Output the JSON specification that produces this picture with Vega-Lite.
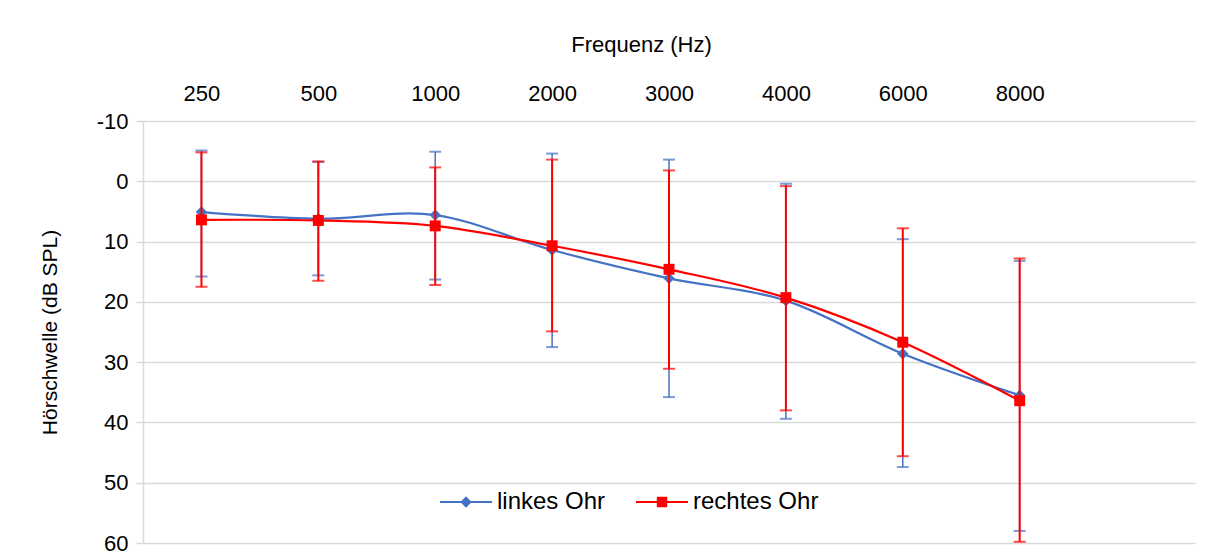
{
  "$schema": "https://vega.github.io/schema/vega-lite/v6.json",
  "width": 1052,
  "height": 422,
  "autosize": {"type": "none"},
  "padding": {"left": 143, "top": 121, "right": 20, "bottom": 9},
  "background": "white",
  "config": {
    "font": "Liberation Sans",
    "view": {"stroke": null}
  },
  "data": {
    "values": [
      {"ear": "linkes Ohr", "freq": "250", "value": 5.1, "lo": -5.1, "hi": 15.8},
      {"ear": "linkes Ohr", "freq": "500", "value": 6.2, "lo": -3.2, "hi": 15.6},
      {"ear": "linkes Ohr", "freq": "1000", "value": 5.6, "lo": -4.9, "hi": 16.3},
      {"ear": "linkes Ohr", "freq": "2000", "value": 11.4, "lo": -4.6, "hi": 27.5},
      {"ear": "linkes Ohr", "freq": "3000", "value": 16.1, "lo": -3.6, "hi": 35.8},
      {"ear": "linkes Ohr", "freq": "4000", "value": 19.8, "lo": 0.4, "hi": 39.4},
      {"ear": "linkes Ohr", "freq": "6000", "value": 28.6, "lo": 9.6, "hi": 47.4},
      {"ear": "linkes Ohr", "freq": "8000", "value": 35.5, "lo": 13.2, "hi": 58.0},
      {"ear": "rechtes Ohr", "freq": "250", "value": 6.4, "lo": -4.8, "hi": 17.5},
      {"ear": "rechtes Ohr", "freq": "500", "value": 6.5, "lo": -3.3, "hi": 16.5},
      {"ear": "rechtes Ohr", "freq": "1000", "value": 7.4, "lo": -2.3, "hi": 17.2},
      {"ear": "rechtes Ohr", "freq": "2000", "value": 10.7, "lo": -3.6, "hi": 24.9},
      {"ear": "rechtes Ohr", "freq": "3000", "value": 14.6, "lo": -1.8, "hi": 31.1},
      {"ear": "rechtes Ohr", "freq": "4000", "value": 19.3, "lo": 0.8, "hi": 38.0},
      {"ear": "rechtes Ohr", "freq": "6000", "value": 26.7, "lo": 7.8, "hi": 45.6},
      {"ear": "rechtes Ohr", "freq": "8000", "value": 36.4, "lo": 12.8, "hi": 59.8}
    ]
  },
  "encoding": {
    "x": {
      "field": "freq",
      "type": "ordinal",
      "sort": null,
      "scale": {"type": "point", "padding": 0.5, "domain": ["250", "500", "1000", "2000", "3000", "4000", "6000", "8000", ""]},
      "axis": {
        "orient": "top",
        "title": "Frequenz (Hz)",
        "titleFontSize": 22,
        "titleFontWeight": "normal",
        "titleColor": "#000000",
        "titlePadding": 26,
        "titleX": 498,
        "titleAlign": "center",
        "labelFontSize": 22,
        "labelColor": "#000000",
        "labelAngle": 0,
        "labelPadding": 16,
        "ticks": false,
        "tickSize": 0,
        "domain": false,
        "grid": false
      }
    },
    "y": {
      "field": "value",
      "type": "quantitative",
      "scale": {"domain": [-10, 60], "reverse": true, "nice": false, "zero": false},
      "axis": {
        "title": "Hörschwelle (dB SPL)",
        "titleFontSize": 21,
        "titleFontWeight": "normal",
        "titleColor": "#000000",
        "titlePadding": 36,
        "values": [-10, 0, 10, 20, 30, 40, 50, 60],
        "labelExpr": "'' + datum.value",
        "labelFontSize": 22,
        "labelColor": "#000000",
        "labelPadding": 8,
        "tickSize": 7,
        "tickColor": "#D9D9D9",
        "tickWidth": 1.5,
        "domainColor": "#D9D9D9",
        "domainWidth": 1.5,
        "gridColor": "#D9D9D9",
        "gridWidth": 1.5
      }
    }
  },
  "layer": [
    {
      "transform": [{"filter": "datum.ear === 'linkes Ohr'"}],
      "layer": [
        {"mark": {"type": "rule", "color": "#4472C4", "strokeWidth": 1.5}, "encoding": {"y": {"field": "lo", "type": "quantitative"}, "y2": {"field": "hi"}}},
        {"mark": {"type": "tick", "color": "#4472C4", "size": 12, "thickness": 2}, "encoding": {"y": {"field": "lo", "type": "quantitative"}}},
        {"mark": {"type": "tick", "color": "#4472C4", "size": 12, "thickness": 2}, "encoding": {"y": {"field": "hi", "type": "quantitative"}}},
        {"mark": {"type": "line", "color": "#4472C4", "interpolate": "cardinal", "tension": 0, "strokeWidth": 2.2}, "encoding": {}},
        {"mark": {"type": "point", "color": "#4472C4", "shape": "diamond", "filled": true, "size": 130, "opacity": 1}, "encoding": {}}
      ]
    },
    {
      "transform": [{"filter": "datum.ear === 'rechtes Ohr'"}],
      "layer": [
        {"mark": {"type": "rule", "color": "#FF0000", "strokeWidth": 2}, "encoding": {"y": {"field": "lo", "type": "quantitative"}, "y2": {"field": "hi"}}},
        {"mark": {"type": "tick", "color": "#FF0000", "size": 12, "thickness": 2}, "encoding": {"y": {"field": "lo", "type": "quantitative"}}},
        {"mark": {"type": "tick", "color": "#FF0000", "size": 12, "thickness": 2}, "encoding": {"y": {"field": "hi", "type": "quantitative"}}},
        {"mark": {"type": "line", "color": "#FF0000", "interpolate": "cardinal", "tension": 0, "strokeWidth": 2.2}, "encoding": {}},
        {"mark": {"type": "point", "color": "#FF0000", "shape": "square", "filled": true, "size": 120, "opacity": 1}, "encoding": {}}
      ]
    },
    {
      "transform": [{"filter": "false"}],
      "mark": {"type": "point", "filled": true, "opacity": 1},
      "encoding": {
        "color": {
          "field": "ear",
          "type": "nominal",
          "scale": {"domain": ["linkes Ohr", "rechtes Ohr"], "range": ["#4472C4", "#FF0000"]},
          "legend": {
            "orient": "none",
            "direction": "horizontal",
            "legendX": 297,
            "legendY": 355,
            "padding": 0,
            "title": null,
            "symbolSize": 2704,
            "symbolStrokeWidth": 0,
            "symbolOpacity": 1,
            "labelFontSize": 24,
            "labelColor": "#000000",
            "labelOffset": 5,
            "columnPadding": 30
          }
        },
        "shape": {
          "field": "ear",
          "type": "nominal",
          "scale": {"domain": ["linkes Ohr", "rechtes Ohr"], "range": ["M-1,-0.04H1V0.04H-1Z M0,-0.22L0.22,0L0,0.22L-0.22,0Z", "M-1,-0.04H1V0.04H-1Z M-0.2,-0.2H0.2V0.2H-0.2Z"]},
          "legend": {
            "orient": "none",
            "direction": "horizontal",
            "legendX": 297,
            "legendY": 355,
            "padding": 0,
            "title": null,
            "symbolSize": 2704,
            "symbolStrokeWidth": 0,
            "symbolOpacity": 1,
            "labelFontSize": 24,
            "labelColor": "#000000",
            "labelOffset": 5,
            "columnPadding": 30
          }
        }
      }
    }
  ]
}
